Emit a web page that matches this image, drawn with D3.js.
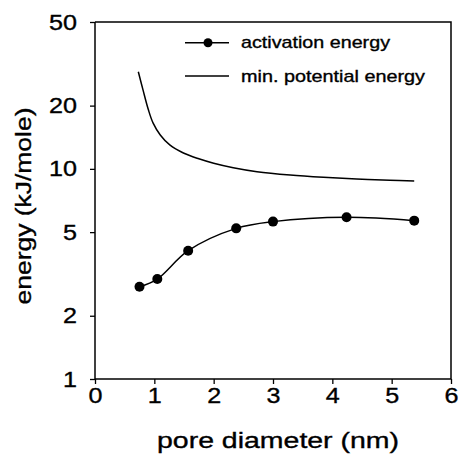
<!DOCTYPE html>
<html>
<head>
<meta charset="utf-8">
<script src="https://cdn.jsdelivr.net/npm/d3@7"></script>
<style>
  body { margin: 0; background: #fff; }
  text { font-family: "Liberation Sans", Arial, Helvetica, sans-serif; fill: #000; stroke: #000; stroke-width: 0.35px; }
</style>
</head>
<body>
<div id="chart"></div>
<script>
// activation energy (dots + smooth line)
var actDiameter = [0.75, 1.05, 1.57, 2.38, 3.0, 4.24, 5.38];
var actEnergy   = [2.75, 2.99, 4.08, 5.21, 5.61, 5.88, 5.67];

// min. potential energy (line only)
var potDiameter = [0.73, 0.81, 0.90, 0.98, 1.10, 1.26, 1.49, 1.75, 2.0, 2.33, 2.73, 3.29, 3.85, 4.41, 4.97, 5.38];
var potEnergy   = [29.0, 23.7, 19.1, 16.5, 14.5, 13.0, 11.9, 11.17, 10.64, 10.13, 9.70, 9.35, 9.12, 8.95, 8.82, 8.76];

var xTicks = [0, 1, 2, 3, 4, 5, 6];
var yTicks = [1, 2, 5, 10, 20, 50];
var legendLabels = ["activation energy", "min. potential energy"];

// set the dimensions and margins of the graph
var margin = {top: 22, right: 8, bottom: 89, left: 95},
    width = 459 - margin.left - margin.right,
    height = 468 - margin.top - margin.bottom;

var svg = d3.select("#chart")
  .append("svg")
    .attr("width", 459)
    .attr("height", 468)
  .append("g")
    .attr("transform", "translate(" + margin.left + "," + margin.top + ")");

var x = d3.scaleLinear().domain([0, 6]).range([0, width]);
var y = d3.scaleLog().domain([1, 50]).range([height, 0]);

// frame: top and right edges
svg.append("path")
  .attr("d", "M0,0H" + width + "V" + height)
  .attr("fill", "none")
  .attr("stroke", "#000")
  .attr("stroke-width", 1.5);

// X axis
var xAxis = svg.append("g")
  .attr("transform", "translate(0," + height + ")")
  .call(d3.axisBottom(x).tickValues(xTicks).tickSize(5).tickPadding(6).tickFormat(d3.format("d")));

// Y axis
var yAxis = svg.append("g")
  .call(d3.axisLeft(y).tickValues(yTicks).tickSize(5).tickPadding(13).tickFormat(d3.format("d")));

[xAxis, yAxis].forEach(function(a) {
  a.select(".domain").attr("stroke-width", 1.5).attr("d", a === xAxis ? "M0,0H" + width : "M0,0V" + height);
  a.selectAll(".tick line").attr("stroke-width", 1.3);
  a.selectAll(".tick text")
    .style("font-size", "22px")
    .attr("fill", "#000")
    .attr("textLength", function(d) { return String(d).length * 14; })
    .attr("lengthAdjust", "spacingAndGlyphs");
});
xAxis.selectAll(".tick text").attr("dy", "0.71em").attr("y", 8);

// axis titles
svg.append("text")
  .attr("x", width / 2 + 5)
  .attr("y", height + 69)
  .attr("text-anchor", "middle")
  .style("font-size", "22px")
  .attr("textLength", 242)
  .attr("lengthAdjust", "spacingAndGlyphs")
  .text("pore diameter (nm)");

svg.append("text")
  .attr("transform", "translate(" + (31 - margin.left) + "," + (206 - margin.top) + ") rotate(-90)")
  .attr("text-anchor", "middle")
  .style("font-size", "22px")
  .attr("textLength", 197)
  .attr("lengthAdjust", "spacingAndGlyphs")
  .text("energy (kJ/mole)");

// lines
var actData = actDiameter.map(function(d, i) { return [d, actEnergy[i]]; });
var potData = potDiameter.map(function(d, i) { return [d, potEnergy[i]]; });

var line = d3.line()
  .x(function(d) { return x(d[0]); })
  .y(function(d) { return y(d[1]); })
  .curve(d3.curveCatmullRom.alpha(0.5));

svg.append("path")
  .datum(potData)
  .attr("fill", "none")
  .attr("stroke", "#000")
  .attr("stroke-width", 1.5)
  .attr("d", line);

svg.append("path")
  .datum(actData)
  .attr("fill", "none")
  .attr("stroke", "#000")
  .attr("stroke-width", 1.5)
  .attr("d", line);

svg.selectAll("circle.act")
  .data(actData)
  .enter()
  .append("circle")
    .attr("class", "act")
    .attr("cx", function(d) { return x(d[0]); })
    .attr("cy", function(d) { return y(d[1]); })
    .attr("r", 5)
    .attr("fill", "#000");

// legend
var legend = svg.append("g").attr("transform", "translate(" + (185 - margin.left) + "," + (42.7 - margin.top) + ")");
var legendWidths = [149, 184];
legendLabels.forEach(function(lbl, i) {
  var row = legend.append("g").attr("transform", "translate(0," + (i * 33.3) + ")");
  row.append("line")
    .attr("x1", 0).attr("x2", 44)
    .attr("stroke", "#000")
    .attr("stroke-width", 1.5);
  if (i === 0) {
    row.append("circle").attr("cx", 23).attr("cy", 0).attr("r", 4.5).attr("fill", "#000");
  }
  row.append("text")
    .attr("x", 56)
    .attr("y", 5.5)
    .style("font-size", "17px")
    .attr("textLength", legendWidths[i])
    .attr("lengthAdjust", "spacingAndGlyphs")
    .text(lbl);
});
</script>
</body>
</html>
